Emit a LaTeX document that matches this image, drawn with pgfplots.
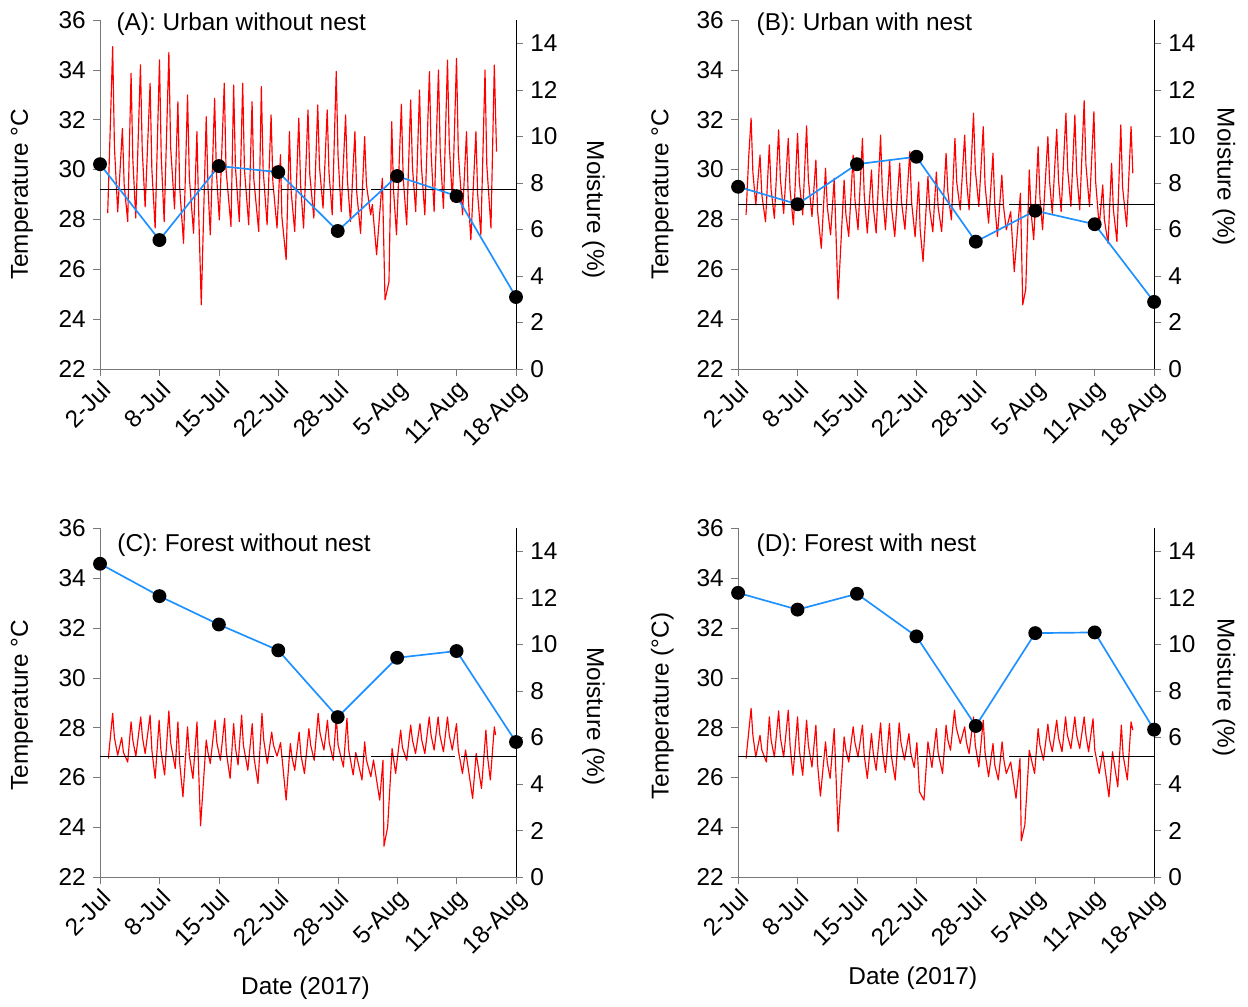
\documentclass[border=0pt]{standalone}
\usepackage{fontspec}
\setmainfont{Liberation Sans}
\usepackage{pgfplots}
\pgfplotsset{compat=1.18}

\definecolor{moistblue}{RGB}{30,144,255}
\definecolor{axgray}{RGB}{120,120,120}
\newcommand{\fs}{\fontsize{11.6}{13.9}\selectfont}

\pgfplotsset{
  base/.style={scale only axis, width=198pt, height=166.1pt,
    xmin=0, xmax=47, clip=false,
    /pgf/number format/assume math mode=true,
    tick label style={font=\fs}, label style={font=\fs},
    tick align=outside, major tick length=3.3pt},
  tempax/.style={base, ymin=22, ymax=36, ytick={22,24,...,36},
    axis x line*=bottom, axis y line*=left,
    xtick={0,6.714,13.429,20.143,26.857,33.571,40.286,47},
    xticklabels={2-Jul,8-Jul,15-Jul,22-Jul,28-Jul,5-Aug,11-Aug,18-Aug},
    x tick label style={rotate=45, anchor=north east, inner sep=1pt},
    axis line style={-, axgray}, tick style={axgray}},
  moistax/.style={base, ymin=0, ymax=15, ytick={0,2,...,14},
    axis y line*=right, axis x line=none,
    axis line style={-, black}, tick style={axgray}},
  redline/.style={red, line width=0.55pt, line join=round},
  meanline/.style={black, line width=0.5pt, dash pattern=on 40pt off 3pt},
  blueline/.style={moistblue, line width=0.8pt, mark=*, mark size=2.9pt,
    mark options={fill=black, draw=black}},
}

\begin{document}
\begin{tikzpicture}
\path (0,0) rectangle (594pt,-478.9pt);

% ---------- (A) ----------
\begin{axis}[tempax, at={(47.6pt,-175.6pt)}, anchor=south west,
  ylabel={Temperature °C}, ylabel style={at={(rel axis cs:-0.188,0.5)}, anchor=center}]
\addplot[redline] table {
0.87 28.25
1.21 32.30
1.43 34.93
1.63 30.90
2.00 28.30
2.53 31.65
2.73 29.40
3.13 27.91
3.51 33.86
3.71 30.40
4.04 28.05
4.57 34.20
4.77 30.80
5.10 28.50
5.66 33.46
5.86 30.00
6.23 27.65
6.72 34.40
6.92 30.50
7.25 27.91
7.78 34.70
7.98 30.90
8.42 28.42
8.80 32.72
9.00 29.30
9.44 27.04
9.89 32.99
10.09 29.70
10.57 27.44
10.95 31.52
11.15 28.30
11.44 24.57
12.00 32.12
12.20 29.30
12.46 27.38
12.95 32.86
13.15 29.90
13.48 27.98
14.04 33.46
14.24 30.00
14.80 27.71
15.10 33.39
15.30 30.10
15.74 27.91
16.12 33.46
16.32 30.00
16.80 27.78
17.18 32.72
17.38 29.60
17.93 27.51
18.23 33.33
18.43 30.00
18.88 27.78
19.33 32.19
19.53 29.50
20.00 27.65
20.39 30.59
20.55 28.10
21.03 26.38
21.40 31.52
21.60 29.10
22.00 27.51
22.46 32.06
22.66 29.40
23.00 27.65
23.50 32.39
23.70 29.80
24.16 28.05
24.60 32.59
24.80 30.10
25.20 28.45
25.67 32.39
25.87 29.90
26.24 28.18
26.69 33.93
26.89 30.60
27.25 28.31
27.75 32.19
27.95 29.60
28.30 27.91
28.80 31.52
29.00 29.10
29.44 27.44
29.90 31.32
30.10 29.40
30.58 28.18
30.77 28.60
31.25 26.58
31.90 29.65
32.20 24.77
32.65 25.50
32.96 31.92
33.16 29.20
33.50 27.38
34.05 32.62
34.25 29.70
34.65 27.78
35.10 32.79
35.30 30.10
35.67 28.31
36.10 33.19
36.30 30.20
36.70 28.18
37.22 33.93
37.42 30.60
37.75 28.31
38.24 33.99
38.44 30.70
38.80 28.44
39.26 34.39
39.46 31.00
39.82 28.71
40.28 34.46
40.48 30.70
40.96 28.18
41.41 31.52
41.60 28.90
41.90 27.18
42.47 31.52
42.67 29.00
43.03 27.38
43.50 33.99
43.70 30.20
44.17 27.65
44.55 34.19
44.80 30.72
};
\addplot[meanline] coordinates {(0,29.18) (47,29.18)};
\end{axis}
\begin{axis}[moistax, at={(47.6pt,-175.6pt)}, anchor=south west,
  ylabel={Moisture (\%)}, ylabel style={at={(rel axis cs:1.186,0.456)}, anchor=center, rotate=180}]
\addplot[blueline] coordinates {(0,8.80) (6.714,5.54) (13.429,8.72) (20.143,8.46)
  (26.857,5.93) (33.571,8.29) (40.286,7.43) (47,3.09)};
\node[anchor=west, font=\fs] at (rel axis cs:0.022,0.988) {(A): Urban without nest};
\end{axis}

% ---------- (B) ----------
\begin{axis}[tempax, at={(351.3pt,-175.6pt)}, anchor=south west,
  ylabel={Temperature °C}, ylabel style={at={(rel axis cs:-0.182,0.5)}, anchor=center}]
\addplot[redline] table {
0.90 28.18
1.20 30.50
1.47 32.06
1.67 29.90
2.00 28.58
2.48 30.58
2.68 29.00
3.10 27.90
3.53 30.99
3.73 29.20
4.10 28.04
4.58 31.59
4.78 29.60
5.15 28.24
5.67 31.25
5.87 29.20
6.25 27.78
6.72 31.45
6.92 29.50
7.30 28.18
7.74 31.75
7.94 29.60
8.35 28.11
8.79 30.38
8.99 28.30
9.40 26.84
9.88 30.05
10.08 28.50
10.45 27.38
10.86 29.65
11.30 24.80
11.98 29.58
12.18 28.20
12.50 27.31
13.00 30.58
13.20 28.80
13.55 27.58
14.05 31.25
14.25 29.00
14.60 27.45
15.07 29.98
15.27 28.50
15.60 27.45
16.10 31.38
16.30 29.10
16.65 27.58
17.13 30.38
17.33 28.50
17.70 27.31
18.26 30.25
18.46 28.70
18.85 27.60
19.40 30.72
19.60 28.70
20.00 27.30
20.40 29.50
20.57 27.60
20.90 26.31
21.45 29.72
21.65 28.40
22.00 27.50
22.40 29.90
22.60 28.50
23.00 27.51
23.50 30.65
23.70 29.10
24.10 27.98
24.50 31.25
24.70 29.50
25.10 28.38
25.60 31.38
25.80 29.60
26.10 28.38
26.60 32.26
26.80 30.00
27.20 28.51
27.70 31.72
27.90 29.40
28.30 27.85
28.80 30.65
29.00 28.60
29.30 27.31
29.80 29.78
30.00 28.50
30.30 27.58
30.80 28.31
31.20 25.90
31.90 29.05
32.16 24.57
32.50 25.20
32.90 29.98
33.10 28.30
33.40 27.18
33.90 30.92
34.10 28.90
34.40 27.58
35.00 31.32
35.20 29.50
35.50 28.24
36.00 31.62
36.20 29.60
36.50 28.31
37.04 32.26
37.24 30.00
37.60 28.51
38.05 32.19
38.25 29.90
38.60 28.38
39.10 32.76
39.30 30.20
39.70 28.51
40.20 32.32
40.40 29.50
40.80 27.71
41.20 29.38
41.38 28.00
41.80 27.04
42.20 30.25
42.40 28.40
42.80 27.11
43.24 31.79
43.44 29.30
43.90 27.71
44.40 31.72
44.60 29.85
};
\addplot[meanline] coordinates {(0,28.58) (47,28.58)};
\end{axis}
\begin{axis}[moistax, at={(351.3pt,-175.6pt)}, anchor=south west,
  ylabel={Moisture (\%)}, ylabel style={at={(rel axis cs:1.168,0.55)}, anchor=center, rotate=180}]
\addplot[blueline] coordinates {(0,7.83) (6.714,7.08) (13.429,8.80) (20.143,9.12)
  (26.857,5.47) (33.571,6.80) (40.286,6.22) (47,2.88)};
\node[anchor=west, font=\fs] at (rel axis cs:0.027,0.988) {(B): Urban with nest};
\end{axis}

% ---------- (C) ----------
\begin{axis}[tempax, at={(47.6pt,-417.5pt)}, anchor=south west,
  ylabel={Temperature °C}, ylabel style={at={(rel axis cs:-0.188,0.493)}, anchor=center},
  xlabel={Date (2017)}, xlabel style={at={(rel axis cs:0.494,-0.318)}, anchor=center}]
\addplot[redline] table {
0.94 26.76
1.43 28.57
1.63 27.60
2.00 26.89
2.45 27.60
2.65 27.00
3.13 26.62
3.51 28.23
3.71 27.50
4.05 26.85
4.60 28.43
4.80 27.60
5.10 26.96
5.66 28.50
5.86 27.10
6.23 25.96
6.68 28.30
6.88 27.10
7.30 26.10
7.78 28.67
7.98 27.40
8.50 26.36
8.80 28.23
9.00 26.60
9.37 25.22
9.89 28.03
10.09 26.90
10.50 25.96
10.96 28.23
11.36 24.06
12.00 27.50
12.20 27.00
12.46 26.56
13.00 28.30
13.20 27.40
13.60 26.69
14.08 28.37
14.28 27.00
14.70 25.96
15.10 28.16
15.30 27.20
15.60 26.50
16.00 28.50
16.20 27.30
16.70 26.29
17.20 28.16
17.40 26.80
17.85 25.76
18.30 28.57
18.50 27.50
18.90 26.56
19.40 27.82
19.60 27.30
20.00 26.85
20.40 27.40
21.03 25.09
21.50 27.36
21.70 26.80
22.00 26.29
22.50 27.82
22.70 26.90
23.10 26.16
23.60 27.96
23.80 27.30
24.20 26.69
24.65 28.57
24.85 27.80
25.30 27.10
25.70 28.30
25.90 27.40
26.35 26.69
26.70 28.43
26.90 27.30
27.50 26.42
27.90 28.37
28.10 27.10
28.60 26.10
28.90 27.00
29.60 25.90
29.90 27.43
30.10 26.70
30.60 26.03
30.90 26.70
31.60 25.09
31.97 26.69
32.08 23.24
32.50 24.02
33.00 27.16
33.40 26.16
33.97 27.90
34.17 27.20
34.65 26.69
35.10 28.10
35.30 27.50
35.65 26.96
36.15 28.16
36.35 27.50
36.70 26.96
37.20 28.43
37.40 27.70
37.75 27.10
38.20 28.43
38.40 27.70
38.80 27.03
39.26 28.43
39.46 27.70
39.80 27.10
40.28 28.16
40.48 27.10
40.95 26.16
41.30 27.10
42.10 25.16
42.50 26.96
43.10 25.56
43.60 27.90
43.80 26.80
44.10 25.90
44.55 28.03
44.70 27.70
};
\addplot[meanline] coordinates {(0,26.85) (47,26.85)};
\end{axis}
\begin{axis}[moistax, at={(47.6pt,-417.5pt)}, anchor=south west,
  ylabel={Moisture (\%)}, ylabel style={at={(rel axis cs:1.186,0.461)}, anchor=center, rotate=180}]
\addplot[blueline] coordinates {(0,13.47) (6.714,12.08) (13.429,10.86) (20.143,9.75)
  (26.857,6.88) (33.571,9.43) (40.286,9.72) (47,5.81)};
\node[anchor=west, font=\fs] at (rel axis cs:0.024,0.95) {(C): Forest without nest};
\end{axis}

% ---------- (D) ----------
\begin{axis}[tempax, at={(351.3pt,-417.5pt)}, anchor=south west,
  ylabel={Temperature (°C)}, ylabel style={at={(rel axis cs:-0.182,0.49)}, anchor=center},
  xlabel={Date (2017)}, xlabel style={at={(rel axis cs:0.42,-0.289)}, anchor=center}]
\addplot[redline] table {
0.90 26.76
1.47 28.77
1.67 27.70
2.00 26.82
2.48 27.69
2.68 27.10
3.20 26.62
3.53 28.43
3.73 27.50
4.10 26.82
4.58 28.67
4.78 27.60
5.15 26.82
5.67 28.70
5.87 27.30
6.20 26.09
6.72 28.43
6.92 27.10
7.30 26.09
7.74 28.30
7.94 27.30
8.35 26.42
8.79 28.10
8.99 26.50
9.30 25.25
9.88 27.43
10.08 26.60
10.40 25.96
10.86 27.96
11.30 23.82
11.98 27.63
12.18 27.10
12.50 26.62
13.00 28.03
13.20 27.40
13.55 26.82
14.05 28.10
14.25 26.90
14.60 25.96
15.07 27.76
15.27 27.00
15.60 26.29
16.10 28.19
16.30 27.10
16.65 26.20
17.10 28.16
17.30 26.90
17.75 25.90
18.20 28.19
18.40 27.40
18.80 26.70
19.30 27.76
19.50 27.00
19.90 26.40
20.20 27.40
20.50 25.42
21.00 25.09
21.45 27.43
21.90 26.40
22.40 27.96
22.60 27.00
23.10 26.16
23.50 28.10
23.70 27.50
24.00 27.09
24.45 28.70
24.65 28.00
25.10 27.36
25.60 28.03
25.80 27.40
26.10 26.96
26.60 28.43
26.80 27.30
27.20 26.42
27.70 28.30
27.90 27.00
28.30 26.03
28.80 27.36
29.00 26.50
29.40 25.90
29.83 27.43
30.03 26.70
30.30 26.16
30.80 26.62
31.40 25.16
31.85 26.76
32.00 23.46
32.40 24.10
32.90 27.09
33.50 26.16
33.90 27.96
34.10 27.30
34.50 26.69
35.00 28.14
35.20 27.50
35.50 27.03
36.00 28.30
36.20 27.60
36.60 27.03
37.00 28.43
37.20 27.70
37.60 27.16
38.05 28.43
38.25 27.70
38.60 27.16
39.10 28.43
39.30 27.70
39.60 27.03
40.10 28.36
40.30 27.10
40.80 26.16
41.20 27.03
41.90 25.22
42.30 27.03
42.90 25.62
43.30 28.10
43.50 26.90
43.98 25.90
44.40 28.23
44.60 27.90
};
\addplot[meanline] coordinates {(0,26.85) (47,26.85)};
\end{axis}
\begin{axis}[moistax, at={(351.3pt,-417.5pt)}, anchor=south west,
  ylabel={Moisture (\%)}, ylabel style={at={(rel axis cs:1.168,0.544)}, anchor=center, rotate=180}]
\addplot[blueline] coordinates {(0,12.22) (6.714,11.50) (13.429,12.18) (20.143,10.35)
  (26.857,6.50) (33.571,10.49) (40.286,10.52) (47,6.34)};
\node[anchor=west, font=\fs] at (rel axis cs:0.027,0.95) {(D): Forest with nest};
\end{axis}
\end{tikzpicture}
\end{document}
